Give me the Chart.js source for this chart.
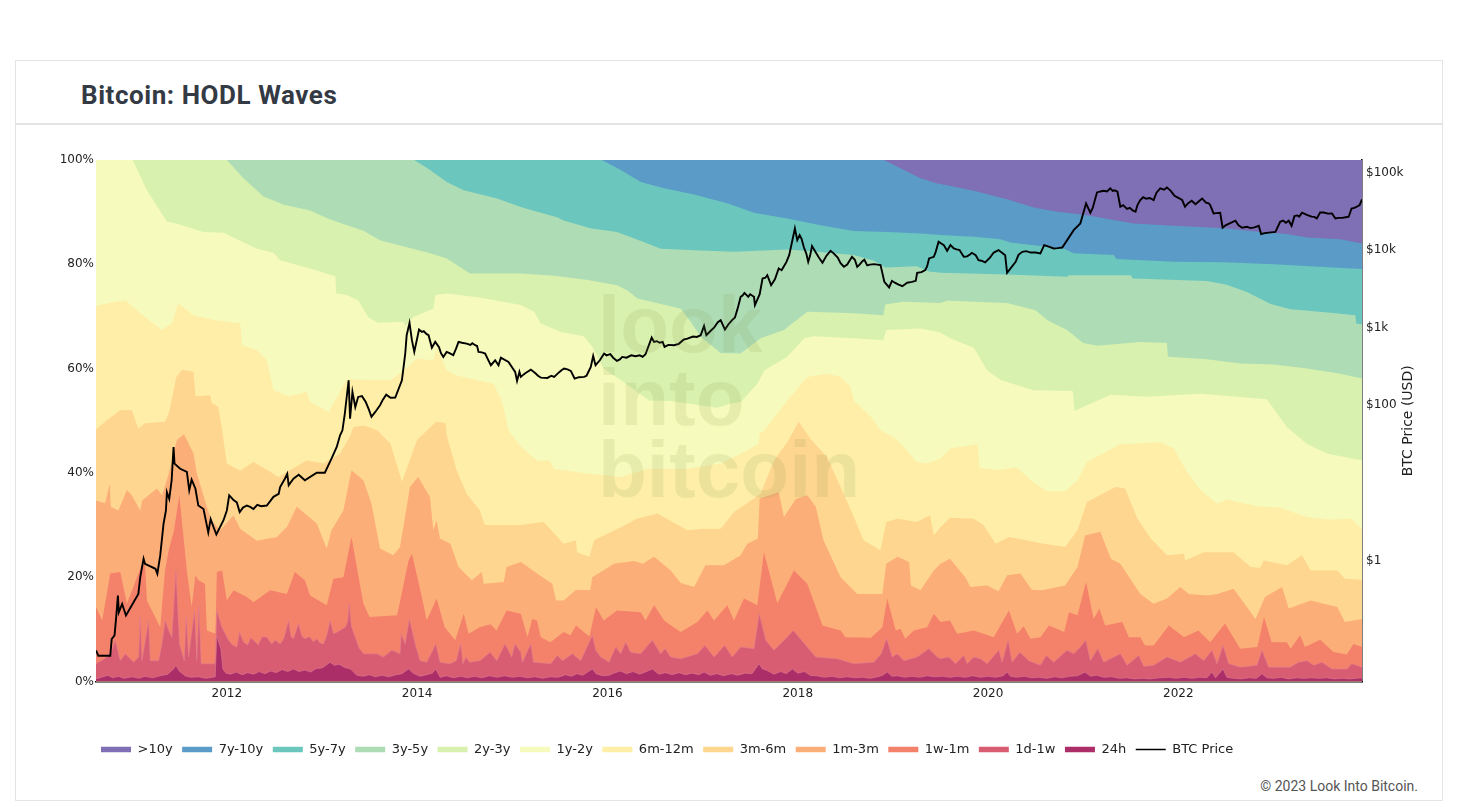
<!DOCTYPE html>
<html>
<head>
<meta charset="utf-8">
<title>Bitcoin: HODL Waves</title>
<script src="https://cdn.jsdelivr.net/npm/chart.js@4/dist/chart.umd.min.js"></script>
<style>
  html, body { margin: 0; padding: 0; background: #fff; overflow: hidden; }
  #card { position: absolute; left: 15px; top: 60px; width: 1426px; height: 739px; border: 1px solid #e4e4e4; }
  #head { position: absolute; left: 0; top: 0; width: 100%; height: 62px; border-bottom: 2px solid #e4e4e4; }
  #head h1 { margin: 0; position: absolute; left: 65px; top: 19px; font: 700 26px Roboto, sans-serif; line-height: 31px; letter-spacing: 0.55px; color: #343a44; }
  #copy { position: absolute; right: 24px; top: 717px; font: 14px Roboto, sans-serif; color: #555; }
  #myChart { position: absolute; left: 0; top: 0; }
</style>
</head>
<body>
<div id="card">
  <div id="head"><h1>Bitcoin: HODL Waves</h1></div>
  <div id="copy">© 2023 Look Into Bitcoin.</div>
</div>
<canvas id="myChart" width="1458" height="805"></canvas>
<script>
var bandNames = ['>10y', '7y-10y', '5y-7y', '3y-5y', '2y-3y', '1y-2y', '6m-12m', '3m-6m', '1m-3m', '1w-1m', '1d-1w', '24h'];
var bandColors = ['#7f6fb4', '#5a9bc7', '#6bc6be', '#aeddb5', '#d9f1ae', '#f6fabc', '#feeea8', '#fed68f', '#fcae78', '#f4816a', '#d95d72', '#ab2e68'];

var xTicks = [2012, 2014, 2016, 2018, 2020, 2022];
var pctTicks = [0, 20, 40, 60, 80, 100];
var priceTicks = [1, 100, 1000, 10000, 100000];
var priceTickLabels = ['$1', '$100', '$1k', '$10k', '$100k'];

// top edge of each band, [year, cumulative % of supply]
var top10y = [[2010.625, 100], [2023.93, 100]];

var top7y10y = [[2010.625, 100], [2018.906, 100], [2019.116, 98.1], [2019.29, 96.5], [2019.466, 95.5], [2019.5, 95.4], [2019.85, 94.1], [2020.2, 92.45], [2020.48, 90.9], [2020.725, 90.1], [2021.04, 89.4], [2021.32, 88.5], [2021.53, 87.8], [2021.95, 87.4], [2022.48, 86.9], [2022.86, 86.2], [2023.14, 85.8], [2023.35, 85.15], [2023.7, 84.8], [2023.93, 84]];

var top5y7y = [[2010.625, 100], [2015.94, 100], [2016.14, 98.1], [2016.35, 95.8], [2016.595, 94.6], [2016.91, 93.4], [2017.26, 91.7], [2017.54, 89.9], [2017.89, 88.8], [2018.24, 87.5], [2018.59, 86.4], [2018.94, 86.2], [2019.29, 85.9], [2019.5, 85.6], [2019.85, 85.3], [2020.13, 84.8], [2020.235, 84.2], [2020.55, 83.5], [2020.8, 83], [2020.9, 82.1], [2021.32, 81.8], [2021.35, 81], [2021.95, 80.5], [2022.48, 80.4], [2023, 80], [2023.53, 79.5], [2023.93, 79.1]];

var top3y5y = [[2010.625, 100], [2013.97, 100], [2014.136, 98.1], [2014.31, 95.8], [2014.49, 94.2], [2014.84, 92.6], [2015.09, 91], [2015.26, 90.1], [2015.47, 89], [2015.54, 88.4], [2015.82, 86.9], [2016.1, 86.2], [2016.38, 84.3], [2016.56, 83], [2016.91, 82.7], [2017.33, 82.4], [2017.89, 82.85], [2018.2, 82.4], [2018.59, 81.8], [2018.8, 80.7], [2018.92, 79.4], [2019.25, 79.65], [2019.38, 78.6], [2019.5, 78.4], [2020.2, 78.05], [2020.83, 77.6], [2020.85, 77.9], [2021.5, 77.9], [2021.52, 77.3], [2022.3, 76.8], [2022.51, 76.1], [2022.72, 74.7], [2022.97, 72.4], [2023.18, 71.4], [2023.6, 70.7], [2023.86, 70.25], [2023.87, 68.65], [2023.93, 68.5]];

var top2y3y = [[2010.625, 100], [2012, 100], [2012.175, 96.5], [2012.385, 93], [2012.6, 91.4], [2012.875, 90.3], [2013.086, 88.6], [2013.44, 86.4], [2013.61, 84.6], [2013.86, 83.4], [2014.135, 82.1], [2014.31, 81.1], [2014.556, 78.25], [2015.09, 78.25], [2015.44, 77.8], [2015.79, 77], [2016.1, 76], [2016.21, 75], [2016.315, 73.45], [2016.56, 72.4], [2016.77, 71.5], [2016.875, 69], [2016.98, 66.1], [2017.19, 63], [2017.4, 62.9], [2017.61, 65.8], [2017.855, 67.4], [2018.1, 70.9], [2018.59, 70.6], [2018.9, 70.25], [2018.92, 72.3], [2019.11, 72.8], [2019.5, 72.6], [2019.57, 73], [2020.2, 72.6], [2020.5, 71.2], [2020.62, 69.3], [2020.83, 67.4], [2021, 64.9], [2021.15, 64.4], [2021.6, 65.1], [2021.88, 64.9], [2021.89, 62.25], [2022.3, 61.8], [2022.65, 61], [2023, 60.8], [2023.35, 60], [2023.7, 59], [2023.93, 58.1]];

var top1y2y = [[2010.625, 100], [2011.01, 100], [2011.16, 94.2], [2011.37, 88.2], [2011.46, 87.85], [2011.755, 86.2], [2011.965, 86.05], [2012.315, 83], [2012.49, 82.2], [2012.56, 80.8], [2012.875, 79.2], [2013.14, 77.7], [2013.15, 74.4], [2013.26, 74.1], [2013.38, 73.1], [2013.49, 69.8], [2013.59, 68.8], [2013.86, 69], [2013.87, 68.1], [2013.96, 69.9], [2014.17, 71.5], [2014.19, 74.1], [2014.31, 74.4], [2014.66, 73.65], [2015.09, 72.2], [2015.23, 70.9], [2015.3, 68.65], [2015.51, 67], [2015.75, 66.2], [2015.84, 64.2], [2015.96, 60], [2016.17, 57.45], [2016.44, 53.9], [2016.665, 53.8], [2017.15, 52.5], [2017.3, 53.3], [2017.4, 53.6], [2017.575, 57.1], [2017.65, 59.7], [2017.89, 62.25], [2018.07, 65.8], [2018.17, 66.2], [2018.59, 65.8], [2018.9, 65.45], [2018.93, 67.4], [2019.29, 67.7], [2019.5, 66.9], [2019.6, 65.8], [2019.85, 64], [2019.99, 59.7], [2020.13, 57.8], [2020.48, 55.85], [2020.89, 55.7], [2020.91, 51.9], [2021.29, 55], [2021.67, 54.6], [2022.23, 55.2], [2022.93, 54.1], [2023.14, 48.8], [2023.35, 45.6], [2023.56, 43.7], [2023.93, 42.4]];

var top6m12m = [[2010.625, 72], [2010.74, 72.5], [2010.93, 73.1], [2011.09, 70.6], [2011.32, 67.4], [2011.42, 68.65], [2011.49, 72.5], [2011.65, 70.25], [2011.86, 69.3], [2012.14, 68.65], [2012.16, 64.5], [2012.315, 63.5], [2012.42, 61.6], [2012.49, 55.85], [2012.65, 54.7], [2012.84, 55.5], [2012.875, 53.6], [2013.07, 51.7], [2013.26, 57.9], [2013.72, 57.8], [2013.86, 59.7], [2013.995, 61.9], [2014.17, 61.6], [2014.205, 63.85], [2014.31, 59.7], [2014.415, 58.7], [2014.8, 57.1], [2014.89, 53.9], [2014.96, 48.2], [2015.09, 45], [2015.26, 42.4], [2015.39, 42.4], [2015.44, 40.8], [2015.79, 39.9], [2016.14, 39.2], [2016.42, 40.8], [2016.84, 40.8], [2017.19, 41.8], [2017.47, 44.3], [2017.59, 45.6], [2017.6, 47.5], [2017.65, 48.2], [2017.89, 53.9], [2018.1, 58.4], [2018.31, 59], [2018.45, 58.4], [2018.555, 56.5], [2018.59, 53.9], [2018.77, 50.7], [2018.87, 48.2], [2018.94, 47.5], [2019.05, 46.3], [2019.25, 42.1], [2019.36, 41.8], [2019.5, 42.7], [2019.6, 44.7], [2019.89, 45.5], [2019.91, 41], [2020.1, 40.5], [2020.3, 41.1], [2020.45, 38.6], [2020.62, 36.5], [2020.81, 36.5], [2020.94, 38.6], [2021.04, 42.1], [2021.39, 45.5], [2021.81, 45.9], [2021.95, 44.7], [2022.09, 40.2], [2022.23, 36.7], [2022.41, 34.1], [2022.51, 34.9], [2022.83, 33.6], [2023.07, 33.3], [2023.35, 31.55], [2023.58, 31], [2023.82, 31.2], [2023.93, 29.1]];

var top3m6m = [[2010.625, 48.3], [2010.74, 50.1], [2010.88, 52], [2011, 52], [2011.07, 48.5], [2011.14, 49.5], [2011.35, 49.8], [2011.39, 51.4], [2011.47, 58.4], [2011.53, 59.8], [2011.65, 59.4], [2011.67, 54.7], [2011.825, 54.9], [2011.84, 53.4], [2011.91, 52.7], [2011.95, 48.2], [2012, 41.8], [2012.14, 40.4], [2012.28, 42.1], [2012.455, 40.2], [2012.54, 39.2], [2012.84, 42.4], [2013.02, 41.8], [2013.19, 43.7], [2013.3, 47.2], [2013.33, 48.8], [2013.44, 49.1], [2013.58, 48.2], [2013.72, 45.6], [2013.84, 38.3], [2014, 46.3], [2014.2, 49.8], [2014.3, 49.5], [2014.31, 47.2], [2014.415, 40.5], [2014.52, 36], [2014.66, 32.8], [2014.71, 30], [2015.09, 30], [2015.33, 30.6], [2015.54, 26.4], [2015.67, 27.1], [2015.68, 24.8], [2015.81, 23.85], [2015.86, 27.1], [2016.14, 29.6], [2016.31, 31.2], [2016.525, 32.2], [2016.84, 29], [2017.01, 29.3], [2017.19, 29.3], [2017.33, 32.5], [2017.54, 35.1], [2017.61, 36], [2017.75, 42.4], [2017.89, 45.9], [2018.01, 49.8], [2018.13, 46.6], [2018.31, 43], [2018.45, 37.3], [2018.59, 31.55], [2018.69, 27.1], [2018.87, 25.15], [2018.93, 30.6], [2019.05, 31.2], [2019.25, 30.6], [2019.39, 31.9], [2019.43, 28], [2019.5, 29.6], [2019.6, 31.4], [2019.85, 31.2], [2019.95, 30], [2020.08, 26.4], [2020.22, 27.7], [2020.585, 26.4], [2020.81, 25.8], [2020.94, 29], [2021.04, 34.4], [2021.34, 37.3], [2021.44, 37], [2021.57, 31.2], [2021.71, 27.4], [2021.88, 24.2], [2022.06, 24.5], [2022.07, 23.2], [2022.27, 24.8], [2022.58, 24.8], [2022.76, 21.95], [2022.86, 21.8], [2022.9, 23.2], [2023.14, 22.3], [2023.3, 24.2], [2023.39, 21.3], [2023.67, 21.3], [2023.75, 19.7], [2023.93, 19.5]];

var top1m3m = [[2010.625, 34.7], [2010.72, 34.2], [2010.77, 37.9], [2010.78, 33.5], [2010.86, 32.8], [2010.95, 36.7], [2011, 35.7], [2011.09, 32.8], [2011.11, 34.7], [2011.265, 37], [2011.32, 35.7], [2011.39, 39.9], [2011.475, 46.3], [2011.55, 47.4], [2011.65, 43.7], [2011.685, 39.9], [2011.79, 33.5], [2011.84, 30.9], [2011.93, 29], [2012.07, 31.9], [2012.14, 29.3], [2012.315, 27], [2012.525, 27.7], [2012.63, 29.6], [2012.735, 33.5], [2012.945, 30.3], [2013.05, 25.5], [2013.1, 29], [2013.225, 32.8], [2013.31, 40.5], [2013.435, 38.6], [2013.52, 34.1], [2013.61, 25.5], [2013.75, 24.2], [2013.82, 25.8], [2013.925, 37.3], [2014.01, 39.2], [2014.135, 35.4], [2014.17, 29], [2014.205, 30.9], [2014.24, 27.4], [2014.35, 26.4], [2014.435, 21.95], [2014.575, 19.4], [2014.68, 21], [2014.7, 18.75], [2014.91, 19.1], [2014.94, 21.95], [2015.09, 22.9], [2015.26, 20.7], [2015.42, 18.75], [2015.46, 15.55], [2015.54, 15.55], [2015.67, 17.6], [2015.82, 17.5], [2015.84, 20], [2016.07, 22.6], [2016.28, 23.1], [2016.37, 22.6], [2016.49, 23.9], [2016.665, 21.3], [2016.77, 18.9], [2016.91, 18.1], [2017.03, 22.3], [2017.225, 22.3], [2017.4, 24.2], [2017.47, 26.4], [2017.58, 27.4], [2017.6, 35.1], [2017.8, 36.3], [2017.855, 31.55], [2017.98, 35], [2018.1, 35.7], [2018.19, 33.5], [2018.27, 27.1], [2018.45, 20], [2018.625, 16.8], [2018.89, 16.8], [2018.93, 22.6], [2019.05, 23.9], [2019.17, 22.9], [2019.19, 18.4], [2019.29, 17.5], [2019.43, 21.3], [2019.5, 22.6], [2019.6, 23.55], [2019.76, 20], [2019.815, 18.1], [2019.99, 18.4], [2020.11, 17.3], [2020.2, 20.35], [2020.34, 20.7], [2020.46, 17.6], [2020.57, 17.5], [2020.81, 18.4], [2020.94, 21.95], [2021.02, 28], [2021.18, 28.7], [2021.29, 23.55], [2021.39, 22.6], [2021.6, 16.8], [2021.74, 14.9], [2021.88, 15.9], [2022.02, 18.1], [2022.11, 16.8], [2022.3, 16.5], [2022.41, 16.8], [2022.58, 17.8], [2022.72, 14.3], [2022.81, 12], [2022.91, 16.2], [2023.09, 18.1], [2023.16, 14], [2023.39, 15.55], [2023.67, 14.3], [2023.75, 11.4], [2023.93, 12]];

var top1w1m = [[2010.625, 14.3], [2010.69, 11.7], [2010.775, 20.7], [2010.88, 21], [2010.95, 14.9], [2011.11, 22.6], [2011.14, 22.6], [2011.16, 15.55], [2011.3, 10.4], [2011.35, 21.3], [2011.39, 25.2], [2011.445, 29], [2011.5, 35.7], [2011.58, 21.3], [2011.63, 14.3], [2011.67, 20.35], [2011.7, 19.4], [2011.77, 18.75], [2011.79, 9.8], [2011.88, 9.15], [2011.895, 21], [2011.95, 21.3], [2012, 15.55], [2012.07, 17.5], [2012.21, 16.2], [2012.28, 15.2], [2012.455, 17.5], [2012.63, 16.8], [2012.715, 21], [2012.82, 19.4], [2012.875, 16.5], [2013.05, 14.6], [2013.12, 19.7], [2013.225, 20], [2013.31, 27.7], [2013.435, 14.9], [2013.5, 12.35], [2013.79, 12.7], [2013.91, 23.2], [2013.945, 24.5], [2014.05, 16.2], [2014.1, 11.7], [2014.205, 15.9], [2014.29, 10.4], [2014.4, 7.9], [2014.49, 13], [2014.54, 9.15], [2014.66, 10.4], [2014.77, 11], [2014.835, 9.8], [2014.94, 13.6], [2015.09, 13], [2015.16, 8.5], [2015.21, 12], [2015.26, 11.7], [2015.3, 8.5], [2015.4, 7.55], [2015.54, 9.5], [2015.61, 8.85], [2015.67, 10.75], [2015.81, 8.65], [2015.88, 14.3], [2015.96, 11.7], [2016.1, 13.6], [2016.35, 13.3], [2016.4, 11.7], [2016.49, 14.6], [2016.6, 11.6], [2016.77, 9.5], [2016.945, 11.4], [2017.05, 13.6], [2017.12, 11.7], [2017.26, 14.6], [2017.33, 11.7], [2017.435, 15.9], [2017.575, 14.6], [2017.645, 24.8], [2017.785, 15], [2017.96, 21.3], [2018.1, 18.75], [2018.26, 10.75], [2018.45, 9.8], [2018.5, 8.5], [2018.77, 8.4], [2018.89, 10.4], [2018.94, 15.9], [2019.03, 9.8], [2019.08, 10.1], [2019.13, 8.2], [2019.22, 9.8], [2019.36, 10.4], [2019.43, 13], [2019.5, 11.4], [2019.6, 11.7], [2019.675, 9.15], [2019.85, 9.8], [2020.06, 8.5], [2020.13, 10.75], [2020.22, 13.6], [2020.305, 9.15], [2020.375, 10.6], [2020.445, 8.2], [2020.55, 8.5], [2020.64, 10.75], [2020.8, 9.5], [2020.85, 13.3], [2020.94, 12.7], [2021.03, 19.1], [2021.11, 12], [2021.17, 14], [2021.23, 10.75], [2021.41, 11.4], [2021.48, 8.5], [2021.6, 8.5], [2021.65, 6.9], [2021.74, 6.9], [2021.9, 10.75], [2022.06, 8.5], [2022.21, 9.8], [2022.335, 7.55], [2022.49, 11.1], [2022.65, 6.3], [2022.83, 6.6], [2022.9, 12.35], [2022.98, 7.55], [2023.14, 7.55], [2023.18, 6.3], [2023.28, 8.85], [2023.33, 6.6], [2023.49, 8], [2023.63, 5.65], [2023.77, 5.2], [2023.84, 7.2], [2023.93, 6.6]];

var top1d1w = [[2010.625, 3.4], [2010.74, 4.7], [2010.793, 6], [2010.828, 7.9], [2010.88, 4], [2010.933, 5.3], [2011.02, 3.7], [2011.073, 4.7], [2011.09, 12.35], [2011.108, 4], [2011.178, 11.7], [2011.195, 4], [2011.283, 4], [2011.318, 7.2], [2011.353, 11.7], [2011.388, 9.8], [2011.423, 8.5], [2011.465, 21.3], [2011.503, 7.2], [2011.552, 4], [2011.573, 12.35], [2011.598, 4.7], [2011.661, 13.6], [2011.685, 4], [2011.706, 14.3], [2011.731, 3.4], [2011.878, 3.4], [2011.895, 13.6], [2011.948, 10.4], [2012.018, 7.9], [2012.06, 7], [2012.105, 6.6], [2012.134, 9.5], [2012.176, 7.55], [2012.22, 7], [2012.25, 8.4], [2012.281, 7.9], [2012.33, 7], [2012.37, 8.6], [2012.421, 8.5], [2012.47, 7.2], [2012.51, 7.9], [2012.561, 7.2], [2012.6, 8.3], [2012.648, 11.7], [2012.675, 8.6], [2012.701, 8.2], [2012.753, 11.1], [2012.79, 8.6], [2012.823, 8.2], [2012.87, 8.6], [2012.91, 7.6], [2012.946, 8.2], [2012.98, 7.4], [2013.016, 7.2], [2013.05, 8.8], [2013.086, 11.7], [2013.121, 9.15], [2013.17, 9.6], [2013.244, 10.4], [2013.27, 11.5], [2013.286, 14.9], [2013.31, 10.5], [2013.349, 8.5], [2013.39, 6.4], [2013.436, 5.3], [2013.576, 5.3], [2013.646, 4.7], [2013.734, 6], [2013.821, 5.3], [2013.832, 9.15], [2013.874, 7.2], [2013.919, 12], [2013.979, 7.2], [2014.031, 4], [2014.101, 3.7], [2014.154, 5.6], [2014.196, 7.2], [2014.241, 3.7], [2014.346, 3.4], [2014.41, 4], [2014.459, 7.2], [2014.48, 3.4], [2014.515, 4.7], [2014.55, 3.7], [2014.662, 4], [2014.767, 5.6], [2014.837, 4], [2014.924, 7.2], [2014.994, 4.7], [2015.029, 7.2], [2015.089, 5.6], [2015.107, 3.7], [2015.194, 7.2], [2015.222, 3.7], [2015.404, 3.4], [2015.474, 5], [2015.527, 4], [2015.632, 5.3], [2015.719, 4], [2015.842, 8.8], [2015.877, 6], [2015.929, 4.7], [2016.017, 3.7], [2016.087, 6.6], [2016.139, 5.3], [2016.192, 7.55], [2016.244, 5.6], [2016.349, 5.3], [2016.472, 7.9], [2016.559, 5.3], [2016.605, 6.3], [2016.665, 4.7], [2016.77, 4.35], [2016.945, 5.3], [2017.025, 6.9], [2017.12, 4.7], [2017.232, 6.9], [2017.312, 4.7], [2017.4, 6.6], [2017.54, 6.3], [2017.596, 13], [2017.663, 7.9], [2017.75, 6], [2017.873, 8.2], [2017.953, 9.8], [2018.1, 6.6], [2018.188, 4.7], [2018.415, 4.35], [2018.59, 3.4], [2018.8, 3.7], [2018.877, 5.3], [2018.934, 8.2], [2018.993, 4.7], [2019.046, 5.3], [2019.116, 4], [2019.256, 4.7], [2019.378, 6.3], [2019.466, 4.7], [2019.5, 4.35], [2019.588, 4.7], [2019.658, 3.4], [2019.745, 5], [2019.78, 3.4], [2019.85, 4.7], [2019.92, 4.35], [2019.99, 3.4], [2020.113, 6], [2020.148, 3.7], [2020.211, 7.9], [2020.253, 3.7], [2020.333, 5.6], [2020.428, 4], [2020.55, 3.1], [2020.613, 5], [2020.69, 3.7], [2020.831, 6], [2020.901, 5.3], [2020.97, 6.6], [2021.027, 7.9], [2021.076, 4], [2021.153, 6.3], [2021.216, 3.7], [2021.391, 5.3], [2021.461, 3.1], [2021.583, 5], [2021.636, 2.9], [2021.741, 3.1], [2021.881, 4.7], [2022.021, 3.7], [2022.179, 5.3], [2022.266, 4], [2022.354, 6], [2022.406, 3.4], [2022.469, 6.9], [2022.529, 3.4], [2022.651, 2.75], [2022.826, 3.1], [2022.879, 6], [2022.949, 2.75], [2023.176, 2.75], [2023.264, 3.7], [2023.352, 4], [2023.422, 3.1], [2023.509, 3.7], [2023.614, 2.4], [2023.772, 2.4], [2023.824, 3.4], [2023.93, 2.75]];

var top24h = [[2010.625, 0.5], [2010.7, 0.9], [2010.75, 1.2], [2010.8, 0.7], [2010.86, 1], [2010.92, 0.6], [2011, 0.9], [2011.08, 0.6], [2011.14, 1], [2011.22, 0.7], [2011.3, 1.1], [2011.38, 1.4], [2011.44, 2.4], [2011.465, 3.1], [2011.5, 2], [2011.56, 1.1], [2011.62, 0.8], [2011.7, 0.9], [2011.78, 0.6], [2011.878, 0.9], [2011.895, 8.8], [2011.92, 7.2], [2011.938, 6.2], [2011.959, 2.4], [2011.99, 1.6], [2012.04, 1.4], [2012.1, 1.8], [2012.16, 1.3], [2012.22, 1.7], [2012.28, 1.4], [2012.34, 1.9], [2012.4, 1.5], [2012.46, 2], [2012.52, 1.7], [2012.58, 2.3], [2012.64, 1.9], [2012.7, 2.4], [2012.76, 1.9], [2012.82, 2.2], [2012.88, 1.8], [2012.94, 2.5], [2013, 2.6], [2013.05, 3.2], [2013.086, 3.7], [2013.13, 3.1], [2013.18, 3.3], [2013.24, 2.7], [2013.3, 2.4], [2013.366, 1.2], [2013.43, 1], [2013.5, 1.3], [2013.56, 0.9], [2013.63, 1.2], [2013.7, 0.9], [2013.78, 1.3], [2013.84, 1.5], [2013.909, 2.4], [2013.96, 1.6], [2014.03, 1], [2014.1, 1.3], [2014.16, 1.6], [2014.196, 2.4], [2014.241, 0.8], [2014.31, 1.1], [2014.38, 0.7], [2014.46, 1], [2014.53, 0.7], [2014.6, 1], [2014.68, 0.7], [2014.76, 1.1], [2014.84, 0.8], [2014.92, 1.1], [2015, 0.8], [2015.08, 1], [2015.16, 0.7], [2015.24, 0.9], [2015.32, 0.6], [2015.4, 0.9], [2015.48, 0.8], [2015.56, 1.3], [2015.62, 1], [2015.68, 1.5], [2015.74, 1.2], [2015.8, 1.9], [2015.842, 2.4], [2015.88, 1.5], [2015.95, 1.1], [2016.017, 1.2], [2016.08, 1.7], [2016.139, 2], [2016.2, 1.5], [2016.27, 1.9], [2016.34, 1.4], [2016.41, 1.9], [2016.472, 2.4], [2016.54, 1.4], [2016.61, 1.7], [2016.68, 1.3], [2016.75, 1.7], [2016.82, 1.3], [2016.89, 1.6], [2016.96, 1.3], [2017.015, 1.8], [2017.08, 1.2], [2017.15, 1.5], [2017.22, 1.1], [2017.3, 1.5], [2017.37, 1.2], [2017.45, 1.6], [2017.52, 1.5], [2017.593, 3.4], [2017.63, 2.4], [2017.68, 2.1], [2017.75, 1.4], [2017.82, 1.9], [2017.88, 1.5], [2017.943, 2.4], [2018, 1.6], [2018.07, 1.9], [2018.135, 1.15], [2018.2, 1.1], [2018.28, 0.8], [2018.36, 1], [2018.44, 0.7], [2018.52, 0.9], [2018.6, 0.7], [2018.68, 0.8], [2018.76, 0.6], [2018.84, 0.9], [2018.888, 1.15], [2018.941, 1.8], [2018.99, 1], [2019.05, 1.1], [2019.12, 0.8], [2019.2, 1], [2019.28, 0.8], [2019.36, 1.1], [2019.44, 0.9], [2019.52, 1], [2019.6, 0.8], [2019.68, 1], [2019.76, 0.8], [2019.84, 1.1], [2019.92, 0.8], [2020, 1], [2020.08, 0.8], [2020.16, 1.1], [2020.2, 1.8], [2020.235, 1], [2020.3, 0.8], [2020.38, 1], [2020.46, 0.7], [2020.54, 0.8], [2020.62, 0.6], [2020.7, 0.9], [2020.78, 0.7], [2020.86, 1], [2020.94, 1.1], [2021.02, 1.8], [2021.075, 1], [2021.14, 1.2], [2021.22, 0.8], [2021.3, 0.9], [2021.38, 0.6], [2021.46, 0.7], [2021.54, 0.5], [2021.62, 0.6], [2021.7, 0.5], [2021.8, 0.7], [2021.9, 0.8], [2021.98, 0.6], [2022.06, 0.8], [2022.14, 0.6], [2022.22, 0.8], [2022.3, 0.7], [2022.354, 1.8], [2022.39, 0.7], [2022.469, 2.4], [2022.51, 0.8], [2022.58, 0.6], [2022.66, 0.5], [2022.74, 0.7], [2022.82, 0.6], [2022.879, 1.5], [2022.93, 0.7], [2023, 0.6], [2023.08, 0.8], [2023.16, 0.5], [2023.24, 0.7], [2023.32, 0.6], [2023.4, 0.7], [2023.48, 0.6], [2023.56, 0.7], [2023.64, 0.5], [2023.72, 0.6], [2023.8, 0.5], [2023.93, 0.7]];

var btcPrice = [[2010.625, 0.069], [2010.65, 0.059], [2010.775, 0.059], [2010.79, 0.097], [2010.82, 0.108], [2010.84, 0.205], [2010.855, 0.353], [2010.865, 0.215], [2010.9, 0.275], [2010.94, 0.195], [2011, 0.262], [2011.07, 0.37], [2011.09, 0.61], [2011.125, 1.05], [2011.14, 0.906], [2011.25, 0.78], [2011.27, 0.673], [2011.3, 1.16], [2011.335, 2.97], [2011.36, 4.4], [2011.37, 7.6], [2011.395, 6.2], [2011.42, 10.8], [2011.44, 29], [2011.45, 17.7], [2011.51, 15.2], [2011.58, 13.8], [2011.605, 8], [2011.63, 11], [2011.67, 8.4], [2011.7, 5.1], [2011.755, 4.6], [2011.805, 2.3], [2011.83, 3.4], [2011.86, 2.7], [2011.89, 2.16], [2011.965, 3.3], [2012, 4.4], [2012.025, 6.9], [2012.05, 6.4], [2012.07, 6], [2012.105, 5.6], [2012.135, 4.2], [2012.17, 4.8], [2012.21, 5.1], [2012.245, 4.9], [2012.28, 4.6], [2012.32, 5.2], [2012.36, 5], [2012.42, 5.1], [2012.49, 6.6], [2012.545, 7.2], [2012.56, 8.8], [2012.61, 11.3], [2012.635, 13.1], [2012.65, 9.3], [2012.7, 11.3], [2012.755, 12.7], [2012.82, 10.8], [2012.945, 13.5], [2013.03, 13.5], [2013.1, 20.5], [2013.155, 29], [2013.19, 41], [2013.215, 47.5], [2013.24, 78], [2013.28, 210], [2013.295, 67], [2013.32, 149], [2013.35, 95], [2013.38, 128], [2013.42, 131], [2013.46, 110], [2013.49, 90], [2013.52, 71], [2013.56, 82], [2013.61, 100], [2013.64, 118], [2013.675, 137], [2013.72, 125], [2013.77, 126], [2013.84, 210], [2013.875, 464], [2013.89, 800], [2013.92, 1153], [2013.945, 690], [2013.97, 488], [2014.02, 946], [2014.05, 880], [2014.07, 900], [2014.1, 825], [2014.12, 800], [2014.155, 550], [2014.19, 656], [2014.23, 560], [2014.25, 470], [2014.275, 420], [2014.31, 488], [2014.34, 470], [2014.38, 442], [2014.41, 540], [2014.435, 656], [2014.47, 640], [2014.52, 624], [2014.56, 600], [2014.58, 630], [2014.61, 594], [2014.63, 580], [2014.645, 488], [2014.68, 480], [2014.715, 464], [2014.74, 400], [2014.775, 328], [2014.82, 380], [2014.855, 328], [2014.88, 412], [2014.96, 362], [2015.03, 269], [2015.05, 206], [2015.075, 269], [2015.09, 232], [2015.12, 250], [2015.14, 260], [2015.195, 288], [2015.24, 260], [2015.27, 240], [2015.3, 227], [2015.37, 225], [2015.41, 240], [2015.44, 232], [2015.49, 265], [2015.52, 285], [2015.545, 297], [2015.58, 290], [2015.615, 277], [2015.655, 221], [2015.7, 230], [2015.755, 232], [2015.78, 240], [2015.825, 312], [2015.85, 432], [2015.875, 328], [2015.92, 380], [2015.965, 464], [2015.99, 440], [2016.03, 455], [2016.06, 410], [2016.1, 373], [2016.13, 390], [2016.155, 420], [2016.2, 410], [2016.25, 440], [2016.295, 428], [2016.34, 440], [2016.37, 420], [2016.4, 455], [2016.465, 746], [2016.49, 656], [2016.52, 670], [2016.55, 640], [2016.58, 656], [2016.6, 565], [2016.64, 600], [2016.7, 594], [2016.75, 620], [2016.8, 700], [2016.84, 724], [2016.9, 770], [2016.94, 760], [2016.98, 800], [2017.015, 1054], [2017.04, 800], [2017.08, 900], [2017.12, 1000], [2017.16, 1180], [2017.19, 1250], [2017.235, 946], [2017.27, 1100], [2017.31, 1250], [2017.34, 1350], [2017.37, 1800], [2017.4, 2500], [2017.42, 2600], [2017.44, 2810], [2017.48, 2500], [2017.5, 2700], [2017.54, 2500], [2017.55, 1950], [2017.6, 2700], [2017.63, 4300], [2017.66, 4400], [2017.68, 4750], [2017.72, 3530], [2017.76, 4200], [2017.8, 5790], [2017.83, 5500], [2017.855, 6200], [2017.88, 7000], [2017.91, 8600], [2017.97, 19000], [2017.995, 13450], [2018.02, 15600], [2018.04, 14000], [2018.065, 10800], [2018.09, 9000], [2018.11, 7060], [2018.13, 8500], [2018.15, 11250], [2018.19, 9300], [2018.22, 8100], [2018.26, 6860], [2018.3, 8400], [2018.345, 9790], [2018.38, 9000], [2018.42, 8000], [2018.45, 6800], [2018.485, 6100], [2018.52, 6500], [2018.57, 8200], [2018.6, 7500], [2018.625, 6100], [2018.65, 6500], [2018.68, 7200], [2018.7, 7500], [2018.73, 6340], [2018.76, 6500], [2018.8, 6600], [2018.87, 6400], [2018.91, 3900], [2018.96, 3300], [2018.99, 4020], [2019.02, 3800], [2019.06, 3600], [2019.1, 3430], [2019.15, 3800], [2019.2, 3900], [2019.24, 4020], [2019.255, 5090], [2019.3, 5200], [2019.34, 5520], [2019.36, 6200], [2019.38, 7800], [2019.43, 8200], [2019.45, 9500], [2019.48, 12800], [2019.535, 11600], [2019.57, 9790], [2019.605, 11600], [2019.64, 10500], [2019.67, 10200], [2019.7, 10000], [2019.745, 8200], [2019.78, 8300], [2019.81, 8800], [2019.83, 9230], [2019.87, 8600], [2019.9, 7430], [2019.93, 7300], [2019.97, 6930], [2020.02, 8000], [2020.06, 9300], [2020.11, 10000], [2020.14, 9400], [2020.18, 8600], [2020.2, 5090], [2020.29, 7060], [2020.32, 8700], [2020.36, 9500], [2020.4, 9700], [2020.45, 9300], [2020.5, 9300], [2020.55, 9060], [2020.59, 11600], [2020.63, 11200], [2020.69, 10500], [2020.73, 10600], [2020.78, 10800], [2020.9, 18100], [2020.97, 22100], [2021.03, 40000], [2021.075, 30300], [2021.1, 35000], [2021.145, 55400], [2021.18, 57000], [2021.215, 58200], [2021.25, 57000], [2021.285, 62400], [2021.31, 58000], [2021.33, 59000], [2021.36, 56500], [2021.39, 36200], [2021.42, 38000], [2021.46, 34000], [2021.49, 35000], [2021.52, 32500], [2021.55, 31200], [2021.57, 38000], [2021.6, 44200], [2021.63, 48000], [2021.66, 46000], [2021.7, 47000], [2021.74, 44200], [2021.77, 55000], [2021.81, 62400], [2021.85, 60000], [2021.88, 64300], [2021.92, 58000], [2021.96, 50000], [2022, 47000], [2022.04, 44200], [2022.07, 36200], [2022.1, 40000], [2022.14, 43300], [2022.18, 39000], [2022.21, 42000], [2022.25, 46300], [2022.29, 41000], [2022.32, 40000], [2022.335, 38000], [2022.37, 29700], [2022.4, 30000], [2022.44, 30300], [2022.465, 19400], [2022.5, 21000], [2022.55, 22500], [2022.6, 23900], [2022.63, 21000], [2022.67, 19400], [2022.72, 20000], [2022.76, 19200], [2022.8, 19600], [2022.845, 20600], [2022.87, 16100], [2022.9, 16500], [2022.95, 16800], [2023.02, 17200], [2023.07, 23200], [2023.1, 24000], [2023.13, 22500], [2023.16, 23900], [2023.19, 20600], [2023.22, 27400], [2023.25, 28000], [2023.27, 27000], [2023.3, 30300], [2023.35, 28500], [2023.4, 27000], [2023.43, 26800], [2023.455, 25600], [2023.49, 30600], [2023.53, 30500], [2023.57, 29500], [2023.615, 29700], [2023.65, 25600], [2023.68, 26000], [2023.72, 26000], [2023.76, 26500], [2023.79, 26900], [2023.82, 34400], [2023.85, 35000], [2023.88, 36500], [2023.905, 38000], [2023.93, 45000]];

var bandTops = [top10y, top7y10y, top5y7y, top3y5y, top2y3y, top1y2y, top6m12m, top3m6m, top1m3m, top1w1m, top1d1w, top24h];

var datasets = bandNames.map(function (name, i) {
    return {
        label: name,
        data: bandTops[i],
        yAxisID: 'y',
        order: bandNames.length - i, // older bands painted first, younger on top
        backgroundColor: bandColors[i],
        borderColor: i >= 10 ? 'rgba(225,130,150,0.7)' : bandColors[i],
        borderWidth: i >= 10 ? 0.8 : 0,
        fill: 'origin',
        pointRadius: 0,
        tension: 0
    };
});
datasets.push({
    label: 'BTC Price',
    data: btcPrice,
    yAxisID: 'y1',
    order: 0,
    borderColor: '#000',
    borderWidth: 1.9,
    fill: false,
    pointRadius: 0,
    tension: 0
});

// watermark, the rotated right axis title and the legend shift
var extras = {
    id: 'extras',
    afterLayout: function (chart) {
        chart.legend.left += 55.5;
        chart.legend.right += 55.5;
    },
    afterDatasetsDraw: function (chart) {
        var c = chart.ctx, a = chart.chartArea;
        c.save();
        c.fillStyle = 'rgba(120,150,70,0.13)';
        c.font = 'bold 80px "Liberation Sans", Arial, sans-serif';
        c.textBaseline = 'alphabetic';
        c.fillText('look', a.left + 502, a.top + 192);
        c.fillText('into', a.left + 502, a.top + 265);
        c.fillText('bitcoin', a.left + 502, a.top + 337);
        c.restore();
    },
    afterDraw: function (chart) {
        var c = chart.ctx, a = chart.chartArea;
        c.save();
        c.translate(a.right + 46, (a.top + a.bottom) / 2);
        c.rotate(-Math.PI / 2);
        c.fillStyle = '#222';
        c.font = '14px "DejaVu Sans"';
        c.textAlign = 'center';
        c.textBaseline = 'middle';
        c.fillText('BTC Price (USD)', 0, 0);
        c.restore();
    }
};

var ctx = document.getElementById('myChart').getContext('2d');
var myChart = new Chart(ctx, {
    type: 'line',
    data: { datasets: datasets },
    plugins: [extras],
    options: {
        responsive: false,
        animation: false,
        layout: { padding: { left: 36, right: 36, top: 160, bottom: 39 } },
        interaction: { mode: null },
        plugins: {
            tooltip: { enabled: false },
            legend: {
                position: 'bottom',
                align: 'start',
                labels: {
                    color: '#222',
                    font: { family: '"DejaVu Sans"', size: 13 },
                    padding: 9.5,
                    usePointStyle: true,
                    pointStyleWidth: 30,
                    generateLabels: function (chart) {
                        return chart.data.datasets.map(function (ds, i) {
                            return {
                                text: ds.label,
                                datasetIndex: i,
                                pointStyle: 'line',
                                strokeStyle: i < 12 ? bandColors[i] : '#000',
                                fillStyle: i < 12 ? bandColors[i] : '#000',
                                lineWidth: i < 12 ? 5.5 : 1.5,
                                fontColor: '#222'
                            };
                        });
                    }
                }
            }
        },
        scales: {
            x: {
                type: 'linear',
                min: 2010.625,
                max: 2023.93,
                afterBuildTicks: function (s) { s.ticks = xTicks.map(function (v) { return { value: v }; }); },
                afterFit: function (s) { s.height = 52; },
                grid: { display: false, drawTicks: false },
                border: { color: '#000', width: 1.5 },
                ticks: {
                    autoSkip: false, maxRotation: 0, padding: 5, color: '#222',
                    font: { family: '"DejaVu Sans"', size: 12 },
                    callback: function (v) { return String(v); }
                }
            },
            y: {
                min: 0,
                max: 100,
                afterBuildTicks: function (s) { s.ticks = pctTicks.map(function (v) { return { value: v }; }); },
                afterFit: function (s) { s.width = 60; },
                grid: { display: false, drawTicks: false },
                border: { display: false },
                ticks: {
                    padding: 2, color: '#222',
                    font: { family: '"DejaVu Sans"', size: 12 },
                    callback: function (v) { return v + '%'; }
                }
            },
            y1: {
                type: 'logarithmic',
                position: 'right',
                min: 0.0275,
                max: 145000,
                afterBuildTicks: function (s) { s.ticks = priceTicks.map(function (v) { return { value: v }; }); },
                afterFit: function (s) { s.width = 60; },
                grid: { display: false, drawTicks: false },
                border: { color: '#000', width: 1.5 },
                ticks: {
                    padding: 4, color: '#222',
                    autoSkip: false,
                    font: { family: '"DejaVu Sans"', size: 12 },
                    callback: function (v) { return priceTickLabels[priceTicks.indexOf(v)]; }
                }
            }
        }
    }
});
</script>
</body>
</html>
